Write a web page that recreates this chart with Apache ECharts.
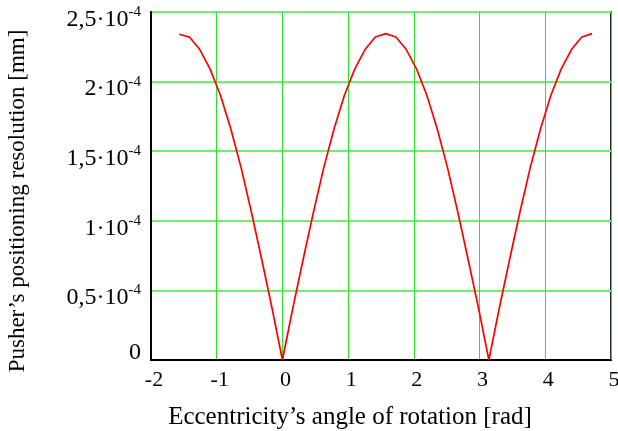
<!DOCTYPE html>
<html>
<head>
<meta charset="utf-8">
<script src="https://cdn.jsdelivr.net/npm/echarts@6/dist/echarts.min.js"></script>
<style>
html,body{margin:0;padding:0;background:#fff;}
#chart{width:618px;height:431px;}
</style>
</head>
<body>
<div id="chart"></div>
<script>
// Angle of rotation [rad]
const angles = [-1.571, -1.414, -1.257, -1.100, -0.942, -0.785, -0.628, -0.471, -0.314, -0.157,
  0.000, 0.157, 0.314, 0.471, 0.628, 0.785, 0.942, 1.100, 1.257, 1.414,
  1.571, 1.728, 1.885, 2.042, 2.199, 2.356, 2.513, 2.670, 2.827, 2.985,
  3.142, 3.299, 3.456, 3.613, 3.770, 3.927, 4.084, 4.241, 4.398, 4.555, 4.712];
// Positioning resolution [mm], in units of 1e-4
const resolution = [2.34, 2.32, 2.23, 2.09, 1.90, 1.66, 1.38, 1.06, 0.72, 0.37,
  0.00, 0.37, 0.72, 1.06, 1.38, 1.66, 1.90, 2.09, 2.23, 2.32,
  2.345, 2.32, 2.23, 2.09, 1.90, 1.66, 1.38, 1.06, 0.72, 0.37,
  0.00, 0.37, 0.72, 1.06, 1.38, 1.66, 1.90, 2.09, 2.23, 2.32, 2.345];
const yTickValues = [0, 0.5e-4, 1e-4, 1.5e-4, 2e-4, 2.5e-4];
const yTickMantissa = ['0', '0,5', '1', '1,5', '2', '2,5'];
const xTitle = 'Eccentricity\u2019s angle of rotation [rad]';
const yTitle = 'Pusher\u2019s positioning resolution [mm]';

const font = 'Liberation Serif';
const data = angles.map((a, i) => [a, resolution[i] * 1e-4]);

const chart = echarts.init(document.getElementById('chart'), null, {renderer: 'canvas'});
chart.setOption({
  animation: false,
  backgroundColor: '#fff',
  grid: {left: 151, right: 7, top: 12, bottom: 71, containLabel: false, outerBoundsMode: 'none',
    show: true, borderColor: '#1f2f1f', borderWidth: 2, backgroundColor: 'transparent'},
  xAxis: {
    type: 'value', min: -2, max: 5, interval: 1,
    axisLine: {show: true, onZero: false, lineStyle: {color: '#000', width: 2}},
    axisTick: {show: false},
    axisLabel: {color: '#000', fontFamily: font, fontSize: 22, margin: 9, padding: [0, 0, 0, 6]},
    splitLine: {show: true, lineStyle: {color: '#2ee02e', width: 1}},
    name: xTitle, nameLocation: 'middle', nameGap: 45,
    nameTextStyle: {color: '#000', fontFamily: font, fontSize: 25, padding: [0, 62, 0, 0]}
  },
  yAxis: {
    type: 'value', min: 0, max: 2.5e-4, interval: 0.5e-4,
    axisLine: {show: true, onZero: false, lineStyle: {color: '#000', width: 2}},
    axisTick: {show: false},
    axisLabel: {
      margin: 10,
      padding: [12, 0, 0, 0],
      formatter: function (v) {
        const i = yTickValues.findIndex(t => Math.abs(t - v) < 1e-9);
        const m = i >= 0 ? yTickMantissa[i] : String(v);
        if (m === '0') return '{z|0}';
        return '{a|' + m + '\u00b710}{s|-4}';
      },
      rich: {
        a: {color: '#000', fontFamily: font, fontSize: 24, verticalAlign: 'bottom', lineHeight: 27},
        s: {color: '#000', fontFamily: font, fontSize: 15, verticalAlign: 'top', lineHeight: 27, padding: [0, 0, 11, 0]},
        z: {color: '#000', fontFamily: font, fontSize: 24, lineHeight: 27, padding: [0, 0, 26, 0]}
      }
    },
    splitLine: {show: true, lineStyle: {color: '#6ef26e', width: 2}},
    name: yTitle, nameLocation: 'middle', nameGap: 122,
    nameTextStyle: {color: '#000', fontFamily: font, fontSize: 23, padding: [0, 30, 0, 0]}
  },
  series: [{
    type: 'line', data: data, showSymbol: false, symbol: 'none',
    lineStyle: {color: '#ff0000', width: 1.7}, z: 5
  }]
});
</script>
</body>
</html>
